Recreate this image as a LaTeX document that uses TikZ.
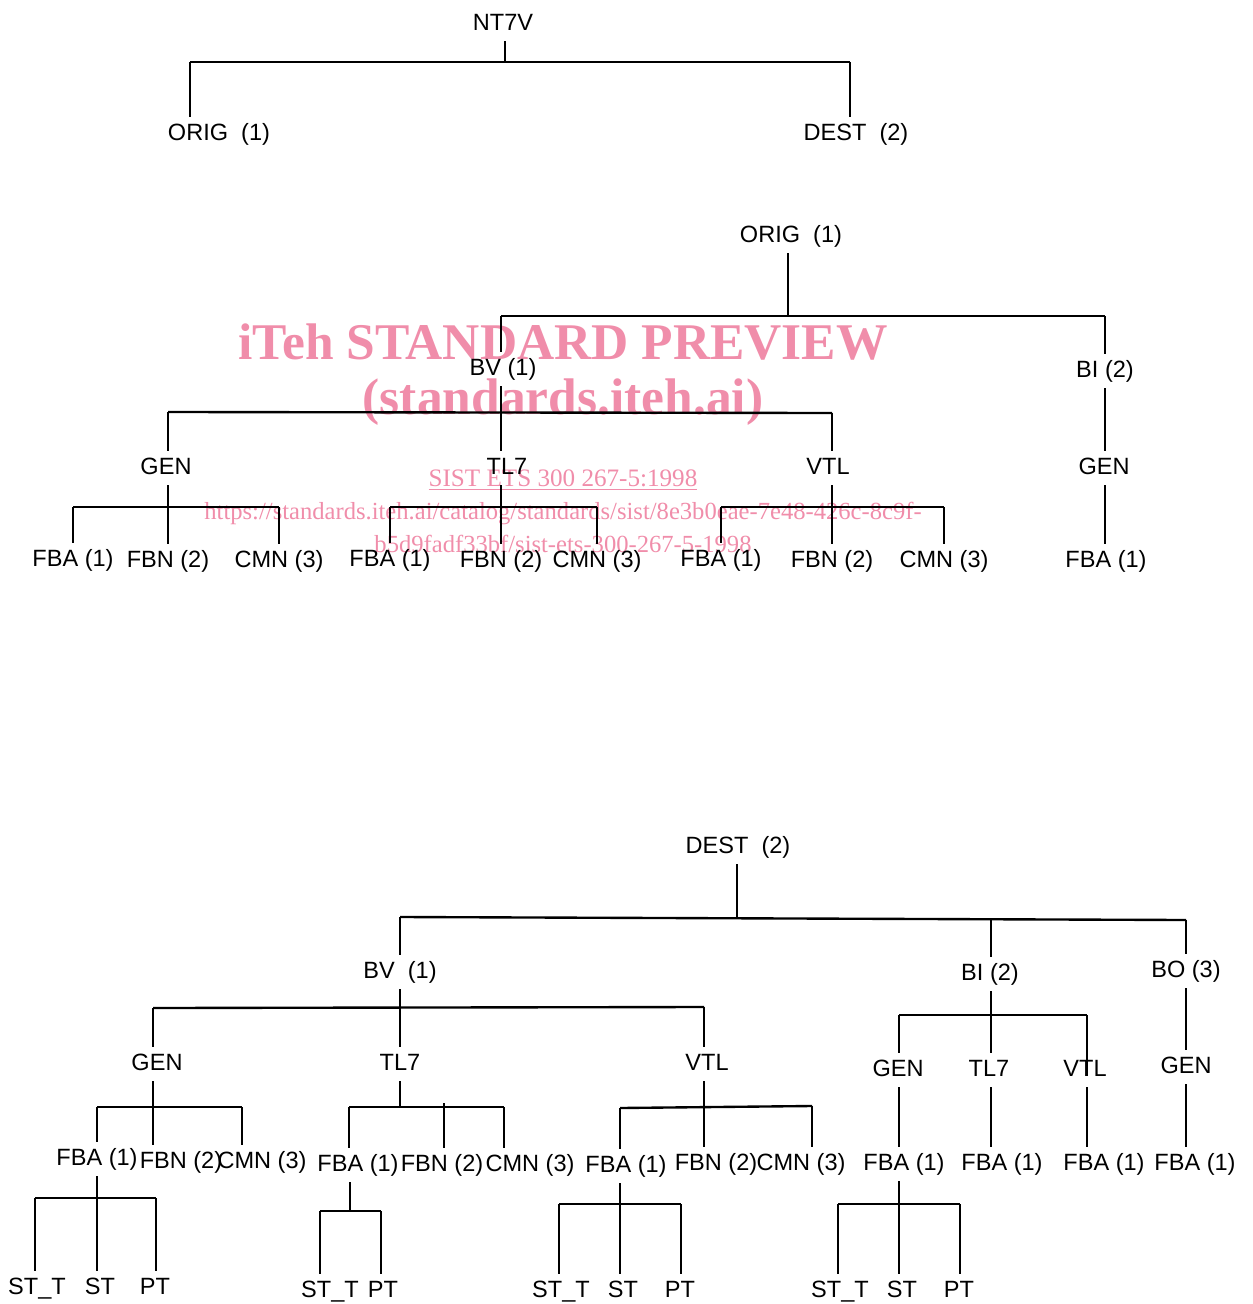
\documentclass[tikz,border=0pt]{standalone}
\usepackage{fontspec}
\setmainfont{Liberation Sans}
\newfontfamily\wmfont{Liberation Serif}
\definecolor{wmpink}{RGB}{240,141,170}
\tikzset{
  lbl/.style={font=\fontsize{13.4}{16}\selectfont, inner sep=3pt, text height=10pt, text depth=3pt, yshift=-1.2pt},
  tree/.style={line width=1.35pt},
  wmark/.style={text=wmpink, inner sep=0pt}
}
\begin{document}
\begin{tikzpicture}[x=0.02cm,y=-0.02cm]
\useasboundingbox (0,0) rectangle (1252,1304);

% watermark
\node[wmark,font=\wmfont\bfseries\fontsize{29.3}{30}\selectfont] (wm1) at (563,342) {iTeh STANDARD PREVIEW};
\node[wmark,font=\wmfont\bfseries\fontsize{29.3}{30}\selectfont] (wm2) at (563,402) {(standards.iteh.ai)};
\node[wmark,font=\wmfont\fontsize{14.3}{16}\selectfont] (wm3) at (563,480) {\underline{SIST ETS 300 267-5:1998}};
\node[wmark,font=\wmfont\fontsize{14}{16}\selectfont] (wm4) at (563,513) {https://standards.iteh.ai/catalog/standards/sist/8e3b0eae-7e48-426c-8c9f-};
\node[wmark,font=\wmfont\fontsize{14}{16}\selectfont] (wm5) at (563,544) {b5d9fadf33bf/sist-ets-300-267-5-1998};

% NT7V
\node[lbl] (nt7v) at (503,22) {NT7V};
\node[lbl] (orig) at (219,132) {ORIG\ \ (1)};
\node[lbl] (dest) at (856,132) {DEST\ \ (2)};
\coordinate (a-j) at (505,62);
\coordinate (a-l) at (190,62);
\coordinate (a-r) at (850,62);
\draw[tree] (nt7v.south -| a-j) -- (a-j);
\draw[tree] (a-l) -- (a-r);
\draw[tree] (a-l) -- (a-l |- orig.north) (a-r) -- (a-r |- dest.north);

% ORIG (1)
\node[lbl] (origm) at (791,234) {ORIG\ \ (1)};
\node[lbl] (bvm) at (503,367) {BV (1)};
\node[lbl] (bim) at (1105,369) {BI (2)};
\coordinate (b-j) at (788,316);
\coordinate (b-l) at (501,316);
\coordinate (b-r) at (1105,316);
\draw[tree] (origm.south -| b-j) -- (b-j);
\draw[tree] (b-l) -- (b-r);
\draw[tree] (b-l) -- (b-l |- bvm.north) (b-r) -- (b-r |- bim.north);

\node[lbl] (genm) at (166,466) {GEN};
\node[lbl] (tlm) at (507,466) {TL7};
\node[lbl] (vtlm) at (828,466) {VTL};
\coordinate (c-j) at (501,412);
\coordinate (c-l) at (168,412);
\coordinate (c-r) at (832,413);
\draw[tree] (bvm.south -| c-j) -- (c-j |- tlm.north);
\draw[tree] (c-l) -- (c-r);
\draw[tree] (c-l) -- (c-l |- genm.north) (c-r) -- (c-r |- vtlm.north);

\node[lbl] (genbm) at (1104,466) {GEN};
\node[lbl] (fbabm) at (1106,559) {FBA (1)};
\draw[tree] (bim.south -| b-r) -- (b-r |- genbm.north) (genbm.south -| b-r) -- (b-r |- fbabm.north);

\foreach \p/\x/\l/\r [count=\i] in {genm/168/73/279,tlm/501/390/597,vtlm/832/721/944}{
  \node[lbl] (fba\i) at (\l,558) {FBA (1)};
  \node[lbl] (fbn\i) at (\x,559) {FBN (2)};
  \node[lbl] (cmn\i) at (\r,559) {CMN (3)};
  \coordinate (m\i-l) at (\l,507);
  \coordinate (m\i-r) at (\r,507);
  \draw[tree] (\p.south -| fbn\i) -- (fbn\i.north);
  \draw[tree] (m\i-l) -- (m\i-r);
  \draw[tree] (m\i-l) -- (fba\i.north) (m\i-r) -- (cmn\i.north);
}

% DEST (2)
\node[lbl] (dest2) at (738,845) {DEST\ \ (2)};
\node[lbl] (bv2) at (400,970) {BV\ \ (1)};
\node[lbl] (bi2) at (990,972) {BI (2)};
\node[lbl] (bo2) at (1186,969) {BO (3)};
\coordinate (e-j) at (737,918);
\coordinate (e-l) at (400,917);
\coordinate (e-m) at (991,920);
\coordinate (e-r) at (1186,920);
\draw[tree] (dest2.south -| e-j) -- (e-j);
\draw[tree] (e-l) -- (e-r);
\draw[tree] (e-l) -- (e-l |- bv2.north) (e-m) -- (e-m |- bi2.north) (e-r) -- (e-r |- bo2.north);

\node[lbl] (gen2) at (157,1062) {GEN};
\node[lbl] (tl2) at (400,1062) {TL7};
\node[lbl] (vtl2) at (707,1062) {VTL};
\coordinate (f-j) at (400,1007);
\coordinate (f-l) at (153,1008);
\coordinate (f-r) at (704,1007);
\draw[tree] (bv2.south -| f-j) -- (f-j |- tl2.north);
\draw[tree] (f-l) -- (f-r);
\draw[tree] (f-l) -- (f-l |- gen2.north) (f-r) -- (f-r |- vtl2.north);

% BV (1) / GEN
\node[lbl] (fba4) at (97,1157) {FBA (1)};
\node[lbl] (fbn4) at (181,1160) {FBN (2)};
\node[lbl] (cmn4) at (262,1160) {CMN (3)};
\coordinate (g-j) at (153,1107);
\coordinate (g-l) at (97,1107);
\coordinate (g-r) at (242,1107);
\draw[tree] (gen2.south -| g-j) -- (g-j |- fbn4.north);
\draw[tree] (g-l) -- (g-r);
\draw[tree] (g-l) -- (g-l |- fba4.north) (g-r) -- (g-r |- cmn4.north);

% BV (1) / TL7
\node[lbl] (fba5) at (358,1163) {FBA (1)};
\node[lbl] (fbn5) at (442,1163) {FBN (2)};
\node[lbl] (cmn5) at (530,1163) {CMN (3)};
\coordinate (i-j) at (400,1107);
\coordinate (i-l) at (349,1107);
\coordinate (i-m) at (444,1103);
\coordinate (i-r) at (504,1107);
\draw[tree] (tl2.south -| i-j) -- (i-j);
\draw[tree] (i-l) -- (i-r);
\draw[tree] (i-l) -- (i-l |- fba5.north) (i-m) -- (i-m |- fbn5.north) (i-r) -- (i-r |- cmn5.north);

\node[lbl] (stt4) at (330,1289) {ST\_T};
\node[lbl] (pt4) at (383,1289) {PT};
\coordinate (k-j) at (350,1211);
\coordinate (k-l) at (320,1211);
\coordinate (k-r) at (381,1211);
\draw[tree] (fba5.south -| k-j) -- (k-j);
\draw[tree] (k-l) -- (k-r);
\draw[tree] (k-l) -- (k-l |- stt4.north) (k-r) -- (k-r |- pt4.north);

% BV (1) / VTL
\node[lbl] (fba6) at (626,1164) {FBA (1)};
\node[lbl] (fbn6) at (716,1162) {FBN (2)};
\node[lbl] (cmn6) at (801,1162) {CMN (3)};
\coordinate (l-j) at (704,1107);
\coordinate (l-l) at (620,1108);
\coordinate (l-r) at (812,1106);
\draw[tree] (vtl2.south -| l-j) -- (l-j |- fbn6.north);
\draw[tree] (l-l) -- (l-r);
\draw[tree] (l-l) -- (l-l |- fba6.north) (l-r) -- (l-r |- cmn6.north);

% BI (2)
\node[lbl] (gen3) at (898,1068) {GEN};
\node[lbl] (tl3) at (989,1068) {TL7};
\node[lbl] (vtl3) at (1085,1068) {VTL};
\coordinate (o-j) at (991,1015);
\coordinate (o-l) at (899,1015);
\coordinate (o-r) at (1087,1015);
\draw[tree] (bi2.south -| o-j) -- (o-j |- tl3.north);
\draw[tree] (o-l) -- (o-r);
\draw[tree] (o-l) -- (o-l |- gen3.north) (o-r) -- (o-r |- vtl3.base);

\node[lbl] (fba7) at (904,1162) {FBA (1)};
\node[lbl] (fba8) at (1002,1162) {FBA (1)};
\node[lbl] (fba9) at (1104,1162) {FBA (1)};
\draw[tree] (gen3.south -| o-l) -- (o-l |- fba7.north);
\draw[tree] (tl3.south -| o-j) -- (o-j |- fba8.north);
\draw[tree] (vtl3.south -| o-r) -- (o-r |- fba9.north);

% BO (3)
\node[lbl] (gen4) at (1186,1065) {GEN};
\node[lbl] (fba10) at (1195,1162) {FBA (1)};
\draw[tree] (bo2.south -| e-r) -- (e-r |- gen4.north) (gen4.south -| e-r) -- (e-r |- fba10.north);

% ST_T / ST / PT
\foreach \p/\x/\l/\r/\y/\t [count=\i] in {fba4/97/35/156/1198/1286,fba6/620/559/681/1204/1289,fba7/899/838/960/1204/1289}{
  \node[lbl] (stt\i) at (\l+2,\t) {ST\_T};
  \node[lbl] (st\i) at (\x+3,\t) {ST};
  \node[lbl] (pt\i) at (\r-1,\t) {PT};
  \coordinate (s\i-l) at (\l,\y);
  \coordinate (s\i-j) at (\x,\y);
  \coordinate (s\i-r) at (\r,\y);
  \draw[tree] (\p.south -| s\i-j) -- (s\i-j |- st\i.north);
  \draw[tree] (s\i-l) -- (s\i-r);
  \draw[tree] (s\i-l) -- (s\i-l |- stt\i.north) (s\i-r) -- (s\i-r |- pt\i.north);
}
\end{tikzpicture}
\end{document}
